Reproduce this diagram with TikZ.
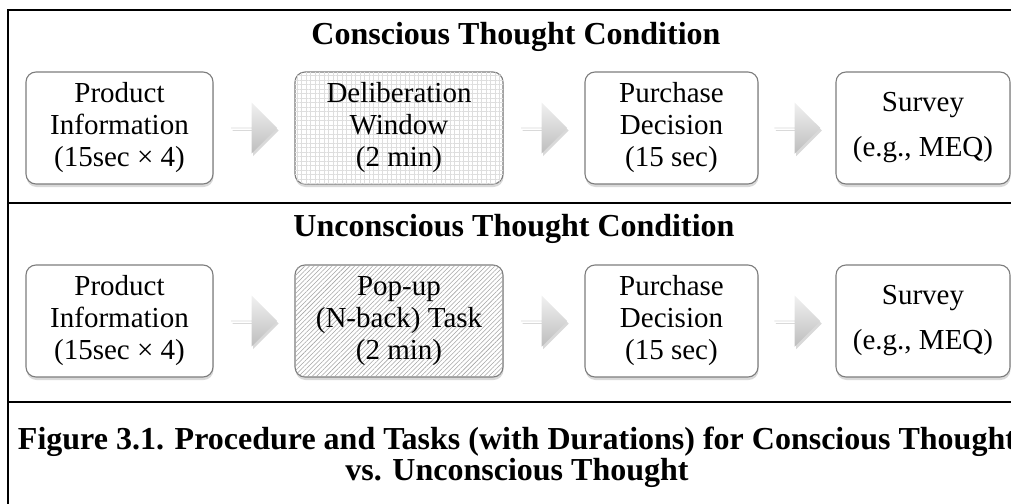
\documentclass[tikz,border=0pt]{standalone}
\usepackage{fontspec}
\setmainfont{Liberation Serif}
\usetikzlibrary{shapes.arrows, positioning, calc, shadows, patterns.meta}
\definecolor{boxedge}{RGB}{125, 125, 125}
\definecolor{gridgray}{RGB}{222, 222, 222}
\definecolor{hatchgray}{RGB}{165, 165, 165}
\definecolor{arrowtop}{RGB}{240, 240, 240}
\definecolor{arrowbot}{RGB}{190, 190, 190}

\begin{document}
\begin{tikzpicture}[
    x=1pt, y=-1pt,
    stagebox/.style={rectangle, draw=boxedge, line width=1.1pt, fill=white, rounded corners=10pt, minimum height=112pt, inner sep=0pt, align=center, font=\fontsize{29}{32}\selectfont, drop shadow={shadow xshift=0.5pt, shadow yshift=-3pt, opacity=0.3}},
    gridbox/.style={stagebox, postaction={pattern={Hatch[distance=4.5pt, line width=0.4pt]}, pattern color=gridgray}},
    hatchbox/.style={stagebox, postaction={pattern={Lines[angle=45, distance=3.2pt, line width=0.55pt]}, pattern color=hatchgray}},
    flowarrow/.style={single arrow, minimum width=51pt, minimum height=46pt, single arrow head extend=10.5pt, inner sep=0pt, top color=arrowtop, bottom color=arrowbot, draw=none, drop shadow={shadow xshift=1.5pt, shadow yshift=-2.5pt, opacity=0.3}},
    cond/.style={font=\fontsize{32}{36}\selectfont\bfseries},
    frame/.style={line width=2.2pt}
]
    \useasboundingbox (0,0) rectangle (1011,503);
    \clip (0,0) rectangle (1011,503);

    % Outer frame and dividers
    \draw[frame] (8,10) rectangle (1016,508);
    \draw[frame] (8,203) -- (1016,203);
    \draw[frame] (8,402) -- (1016,402);

    % Conscious condition
    \node[cond] (ctTitle) at (516, 37) {Conscious Thought Condition};
    \node[stagebox, minimum width=187pt] (ctInfo) at (119.5, 128) {Product\\Information\\(15sec × 4)};
    \node[gridbox, minimum width=208pt] (ctDelib) at (399, 128) {Deliberation\\Window\\(2 min)};
    \node[stagebox, minimum width=173pt] (ctPurch) at (671.5, 128) {Purchase\\Decision\\(15 sec)};
    \node[stagebox, minimum width=174pt] (ctSurvey) at (923, 128) {Survey\\[13pt](e.g., MEQ)};

    % Unconscious condition
    \node[cond] (utTitle) at (514, 229) {Unconscious Thought Condition};
    \node[stagebox, minimum width=187pt] (utInfo) at (119.5, 321) {Product\\Information\\(15sec × 4)};
    \node[hatchbox, minimum width=208pt] (utTask) at (399, 321) {Pop-up\\(N-back) Task\\(2 min)};
    \node[stagebox, minimum width=173pt] (utPurch) at (671.5, 321) {Purchase\\Decision\\(15 sec)};
    \node[stagebox, minimum width=174pt] (utSurvey) at (923, 321) {Survey\\[13pt](e.g., MEQ)};

    % Block arrows between stages
    \node[flowarrow] (ctA1) at ($(ctInfo.east)!0.5!(ctDelib.west)$) {};
    \node[flowarrow] (ctA2) at ($(ctDelib.east)!0.5!(ctPurch.west)$) {};
    \node[flowarrow] (ctA3) at ($(ctPurch.east)!0.5!(ctSurvey.west)$) {};
    \node[flowarrow] (utA1) at ($(utInfo.east)!0.5!(utTask.west)$) {};
    \node[flowarrow] (utA2) at ($(utTask.east)!0.5!(utPurch.west)$) {};
    \node[flowarrow] (utA3) at ($(utPurch.east)!0.5!(utSurvey.west)$) {};

    % Caption
    \node[font=\fontsize{32}{31}\selectfont\bfseries, align=center] (caption) at (517, 457) {Figure 3.1. Procedure and Tasks (with Durations) for Conscious Thought\\vs. Unconscious Thought};

\end{tikzpicture}
\end{document}
